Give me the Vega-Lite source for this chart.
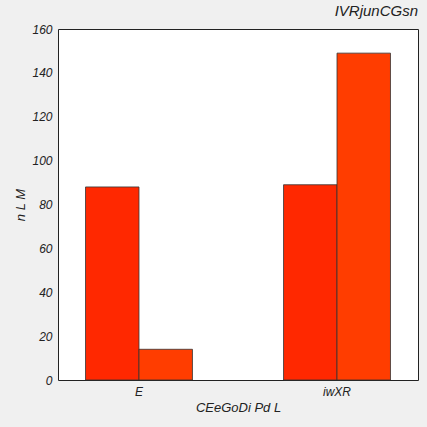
{
  "$schema": "https://vega.github.io/schema/vega-lite/v6.json",
  "autosize": "none",
  "width": 360,
  "height": 351,
  "padding": {"left": 58, "top": 29, "right": 9, "bottom": 47},
  "background": "#f0f0f0",
  "title": {"text": "IVRjunCGsn", "anchor": "end", "fontSize": 15, "font": "Liberation Sans", "fontStyle": "italic", "fontWeight": "normal", "color": "#222", "offset": 4},
  "data": {"values": [
    {"cat": "E", "series": "a", "value": 88},
    {"cat": "E", "series": "b", "value": 14},
    {"cat": "iwXR", "series": "a", "value": 89},
    {"cat": "iwXR", "series": "b", "value": 149}
  ]},
  "mark": {"type": "bar", "stroke": "#333", "strokeWidth": 0.8},
  "encoding": {
    "x": {"field": "cat", "type": "nominal", "title": "CEeGoDi Pd L",
      "scale": {"paddingInner": 0.46, "paddingOuter": 0.139},
      "axis": {"labelAngle": 0, "ticks": false, "labelPadding": 6}},
    "xOffset": {"field": "series", "type": "nominal"},
    "y": {"field": "value", "type": "quantitative", "title": "n L M",
      "scale": {"domain": [0, 160]}, "axis": {"values": [0,20,40,60,80,100,120,140,160], "grid": false, "ticks": false, "labelPadding": 6}},
    "color": {"field": "series", "type": "nominal", "legend": null,
      "scale": {"range": ["#ff2800", "#ff3d00"]}}
  },
  "config": {
    "view": {"stroke": "#222", "fill": "white"},
    "axis": {"labelFont": "Liberation Sans", "titleFont": "Liberation Sans", "labelFontStyle": "italic", "titleFontStyle": "italic", "titleFontWeight": "normal", "labelFontSize": 12, "titleFontSize": 13, "labelColor": "#222", "titleColor": "#222", "domain": false}
  }
}
